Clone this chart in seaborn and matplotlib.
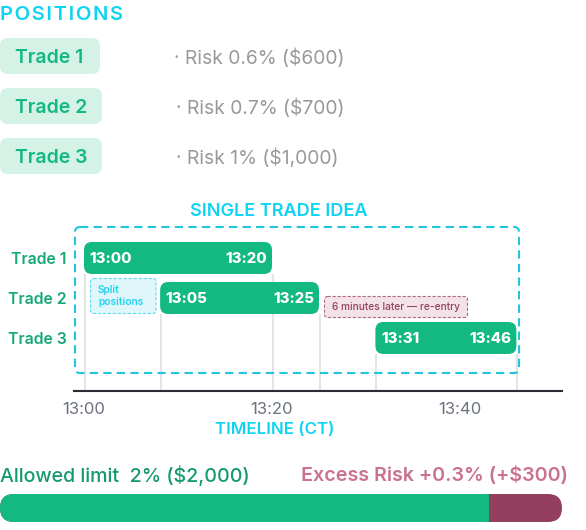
from __future__ import annotations

import matplotlib

matplotlib.use("Agg")
import matplotlib.pyplot as plt
import seaborn as sns
from matplotlib.patches import FancyBboxPatch, Rectangle

W, H = 586, 530

GREEN = "#13b981"
CYAN = "#0fd3f3"
MAROON = "#943f5d"

trades = ["Trade 1", "Trade 2", "Trade 3"]
risk_labels = ["· Risk 0.6% ($600)", "· Risk 0.7% ($700)", "· Risk 1% ($1,000)"]
# minutes after 13:00 as drawn on the timeline
bar_start = [0, 8.1, 31]
bar_end = [20, 25, 46]
start_labels = ["13:00", "13:05", "13:31"]
end_labels = ["13:20", "13:25", "13:46"]
tick_minutes = [0, 20, 40]
tick_labels = ["13:00", "13:20", "13:40"]
allowed_risk = 2.0
excess_risk = 0.3

sns.set_theme(style="white")
plt.rcParams["font.family"] = ["Inter", "DejaVu Sans"]


def px_axes(fig, left, top, right, bottom):
    return fig.add_axes([left / W, 1 - bottom / H, (right - left) / W, (bottom - top) / H])


def rounded(ax, x0, y0, x1, y1, r, **kws):
    patch = FancyBboxPatch(
        (x0 + r, y0 + r), x1 - x0 - 2 * r, y1 - y0 - 2 * r,
        boxstyle=f"round,pad={r},rounding_size={r}", **kws,
    )
    ax.add_patch(patch)
    return patch


def bar_px(bar):
    box = bar.get_window_extent()
    return box.x0, H - box.y1, box.x1, H - box.y0


fig = plt.figure(figsize=(W / 100, H / 100), dpi=100)

# timeline
ax = px_axes(fig, 74, 227, 562, 391)
for name, start, end in zip(trades, bar_start, bar_end):
    sns.barplot(x=[end - start], y=[name], left=start, order=trades, orient="y",
                color=GREEN, width=0.8, ax=ax)
ax.set_xlim(-10 / 9.4, 478 / 9.4)
ax.set_ylim(3.325, -0.775)
ax.patch.set_alpha(0)
for row, (start, end) in enumerate(zip(bar_start, bar_end)):
    ax.vlines([start + 0.1, end + 0.1], row + 0.4, 3.325, color="#dddddd", lw=1.1, zorder=0)
sns.despine(ax=ax, left=True)
ax.spines["bottom"].set_color("#2a2a35")
ax.spines["bottom"].set_linewidth(1.5)
ax.set_xticks(tick_minutes, tick_labels)
ax.tick_params(axis="x", length=0, pad=8, labelsize=12, labelcolor="#6b7280")
ax.tick_params(axis="y", length=0, pad=5.5, labelsize=11.4, labelcolor="#17a877")
for label in ax.get_yticklabels():
    label.set_fontweight("semibold")
ax.set_ylabel("")
ax.set_xlabel("TIMELINE (CT)", color=CYAN, fontsize=12.2, fontweight="semibold")
ax.xaxis.set_label_coords((275 - 74) / 488, -(429.5 - 391) / 164, transform=ax.transAxes)
ax.xaxis.label.set_verticalalignment("center")

# risk bar
risk_ax = px_axes(fig, 0, 494, 562, 522)
sns.barplot(x=[allowed_risk], y=["risk"], color=GREEN, width=1, ax=risk_ax)
sns.barplot(x=[excess_risk], y=["risk"], left=allowed_risk, color=MAROON, width=1, ax=risk_ax)
risk_ax.set_xlim(0, allowed_risk + excess_risk)
risk_ax.set_axis_off()

# page level layer in pixel coordinates
page = fig.add_axes([0, 0, 1, 1], zorder=5)
page.set_xlim(0, W)
page.set_ylim(H, 0)
page.set_axis_off()

fig.canvas.draw()

for bar, first, last in zip(ax.patches, start_labels, end_labels):
    x0, y0, x1, y1 = bar_px(bar)
    bar.set_visible(False)
    rounded(page, x0, y0, x1, y1, 8, fc=GREEN, ec="none")
    ymid = (y0 + y1) / 2 + 1
    page.text(x0 + 5.5, ymid, first, color="white", fontsize=10.8, fontweight="heavy", ha="left", va="center")
    page.text(x1 - 5, ymid, last, color="white", fontsize=10.8, fontweight="heavy", ha="right", va="center")

allowed_bar, excess_bar = risk_ax.patches
x0, y0, x1, y1 = bar_px(allowed_bar)
ex0, _, ex1, _ = bar_px(excess_bar)
allowed_bar.set_visible(False)
excess_bar.set_visible(False)
rounded(page, x0, y0, ex1, y1, 14, fc=MAROON, ec="none")
green_part = rounded(page, x0, y0, ex1, y1, 14, fc=GREEN, ec="none")
green_part.set_clip_path(Rectangle((x0, y0), x1 - x0, y1 - y0, transform=page.transData))

page.text(0, 14.5, "\u200a".join("POSITIONS"), color=CYAN, fontsize=14.5, fontweight="semibold", va="center")

chip_right = [100, 102, 102]
risk_x = [174, 176, 176]
for i, (name, risk) in enumerate(zip(trades, risk_labels)):
    ymid = 56 + 50 * i
    rounded(page, 0, ymid - 18, chip_right[i], ymid + 18, 8, fc="#d5f2e7", ec="none")
    page.text(15, ymid + 1.8, name, color=GREEN, fontsize=14, fontweight="semibold", va="center")
    page.text(risk_x[i], ymid + 1.8, risk, color="#999999", fontsize=13.9, va="center")

page.text(279, 211.5, "SINGLE TRADE IDEA", color=CYAN, fontsize=13, fontweight="semibold", ha="center", va="center")

rounded(page, 75, 227, 519, 373, 5, fc="none", ec="#22c5e0", lw=1.5, ls=(0, (4, 2.5)))

rounded(page, 90.5, 278.5, 156, 313.5, 3, fc="#dff7fb", ec="#5fdcf0", lw=0.8, ls=(0, (3, 1.5)))
page.text(98, 296, "Split\npositions", color="#22d3ee", fontsize=7.3, fontweight="semibold",
          va="center", linespacing=1.3)

rounded(page, 324.5, 296.5, 467.5, 317.5, 3, fc="#f3e3e8", ec="#b06c86", lw=0.8, ls=(0, (3, 1.5)))
page.text(396, 307, "6 minutes later — re-entry", color=MAROON, fontsize=7.3, fontweight="medium",
          ha="center", va="center")

page.text(0, 475.5, "Allowed limit  2% ($2,000)", color="#149a6e", fontsize=14.15, fontweight="medium", va="center")
page.text(568, 475.5, "Excess Risk +0.3% (+$300)", color="#c9728e", fontsize=14.2, fontweight="semibold",
          ha="right", va="center")

fig.savefig("out.png", dpi=100)
plt.close(fig)
